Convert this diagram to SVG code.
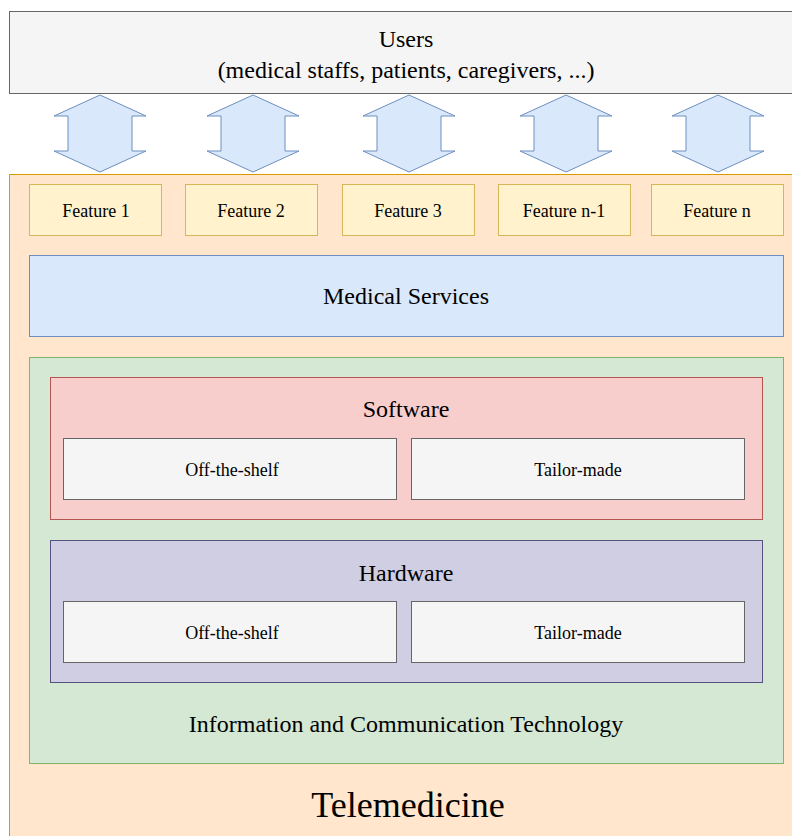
<svg xmlns="http://www.w3.org/2000/svg" width="792" height="836" viewBox="0 0 792 836">
<defs>
<style>
text{font-family:"Liberation Serif","Times New Roman",serif;fill:#000;text-anchor:middle}
.big{font-size:24px}
.small{font-size:18px}
.title{font-size:36px}
.grey{fill:#f5f5f5;stroke:#666666;stroke-width:1}
.feat{fill:#fff2cc;stroke:#d6b656;stroke-width:1}
.arrow{fill:#dae8fc;stroke:#6c8ebf;stroke-width:1}
</style>
<path id="dbl" d="M0,-38.5 L46,-17.5 L32,-17.5 L32,17.5 L46,17.5 L0,38.5 L-46,17.5 L-32,17.5 L-32,-17.5 L-46,-17.5 Z"/>
</defs>
<rect width="792" height="836" fill="#ffffff"/>
<g id="users">
<rect class="grey" x="9.5" y="11.5" width="790" height="82"/>
<text class="big" x="406" y="47">Users</text>
<text class="big" x="406" y="78">(medical staffs, patients, caregivers, ...)</text>
</g>
<g id="connectors">
<use href="#dbl" class="arrow" x="100" y="133.5"/>
<use href="#dbl" class="arrow" x="253" y="133.5"/>
<use href="#dbl" class="arrow" x="409" y="133.5"/>
<use href="#dbl" class="arrow" x="566" y="133.5"/>
<use href="#dbl" class="arrow" x="718" y="133.5"/>
</g>
<g id="telemedicine">
<rect x="9.5" y="174.5" width="790" height="670" fill="#ffe6cc" stroke="#d79b00" stroke-width="1"/>
<text class="title" x="408" y="817">Telemedicine</text>
</g>
<g id="feature1"><rect class="feat" x="29.5" y="184.5" width="132" height="51"/><text class="small" x="96" y="217">Feature 1</text></g>
<g id="feature2"><rect class="feat" x="185.5" y="184.5" width="132" height="51"/><text class="small" x="251" y="217">Feature 2</text></g>
<g id="feature3"><rect class="feat" x="342.5" y="184.5" width="132" height="51"/><text class="small" x="408" y="217">Feature 3</text></g>
<g id="feature4"><rect class="feat" x="498.5" y="184.5" width="132" height="51"/><text class="small" x="564" y="217">Feature n-1</text></g>
<g id="feature5"><rect class="feat" x="651.5" y="184.5" width="132" height="51"/><text class="small" x="717" y="217">Feature n</text></g>
<g id="medical">
<rect x="29.5" y="255.5" width="754" height="81" fill="#dae8fc" stroke="#6c8ebf" stroke-width="1"/>
<text class="big" x="406" y="304">Medical Services</text>
</g>
<g id="ict">
<rect x="29.5" y="357.5" width="754" height="406" fill="#d5e8d4" stroke="#82b366" stroke-width="1"/>
<text class="big" x="406" y="732">Information and Communication Technology</text>
</g>
<g id="software">
<rect x="50.5" y="377.5" width="712" height="142" fill="#f8cecc" stroke="#b85450" stroke-width="1"/>
<text class="big" x="406" y="417">Software</text>
</g>
<g id="sw-off"><rect class="grey" x="63.5" y="438.5" width="333" height="61"/><text class="small" x="232" y="476">Off-the-shelf</text></g>
<g id="sw-tailor"><rect class="grey" x="411.5" y="438.5" width="333" height="61"/><text class="small" x="578" y="476">Tailor-made</text></g>
<g id="hardware">
<rect x="50.5" y="540.5" width="712" height="142" fill="#d0cee2" stroke="#56517e" stroke-width="1"/>
<text class="big" x="406" y="581">Hardware</text>
</g>
<g id="hw-off"><rect class="grey" x="63.5" y="601.5" width="333" height="61"/><text class="small" x="232" y="639">Off-the-shelf</text></g>
<g id="hw-tailor"><rect class="grey" x="411.5" y="601.5" width="333" height="61"/><text class="small" x="578" y="639">Tailor-made</text></g>
</svg>
